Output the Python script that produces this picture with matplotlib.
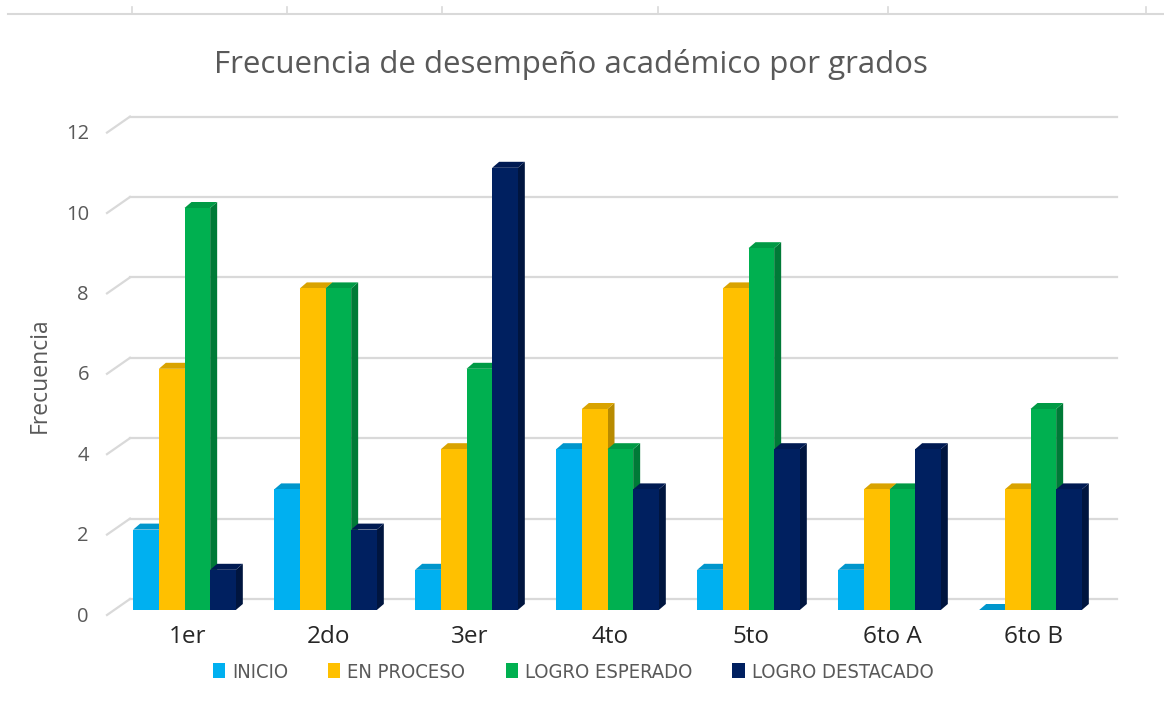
import matplotlib
matplotlib.use("Agg")
import matplotlib.pyplot as plt
from matplotlib.patches import Polygon, Patch
from matplotlib.lines import Line2D
from matplotlib.transforms import IdentityTransform, ScaledTranslation
import numpy as np

# ---------------- data ----------------
categories = ["1er", "2do", "3er", "4to", "5to", "6to A", "6to B"]
series_names = ["INICIO", "EN PROCESO", "LOGRO ESPERADO", "LOGRO DESTACADO"]
inicio = [2, 3, 1, 4, 1, 1, 0]
en_proceso = [6, 8, 4, 5, 8, 3, 3]
logro_esperado = [10, 8, 6, 4, 9, 3, 5]
logro_destacado = [1, 2, 11, 3, 4, 4, 3]
y_ticks = [0, 2, 4, 6, 8, 10, 12]

series = [inicio, en_proceso, logro_esperado, logro_destacado]
front_colors = ["#00B0F0", "#FFC000", "#00B050", "#002060"]
top_colors = ["#0096CC", "#D9A300", "#009A45", "#001A52"]
side_colors = ["#0082B0", "#B88B00", "#007A37", "#00153F"]

W, H = 1164, 702
fig = plt.figure(figsize=(W / 100, H / 100), dpi=100)
fig.patch.set_facecolor("white")

ax_left, ax_right, ax_bottom_px, ax_top_px = 114, 1101, 610, 127.6
ax = fig.add_axes([ax_left / W, (H - ax_bottom_px) / H,
                   (ax_right - ax_left) / W, (ax_bottom_px - ax_top_px) / H])
ax.set_xlim(-0.5, len(categories) - 0.5)
ax.set_ylim(0, 12)
for s in ax.spines.values():
    s.set_visible(False)
ax.patch.set_alpha(0)

fig.canvas.draw()
T = ax.transData
ident = IdentityTransform()

# depth offsets in pixels
bdx, bdy = 7, 6          # bar depth
gdx, gdy = 16, 11        # back wall offset for gridlines
fdx, fdy = -7, -5        # front of floor diagonals

grid_col = "#D9D9D9"
for v in y_ticks:
    x0, yv = T.transform((-0.5, v))
    x1, _ = T.transform((len(categories) - 0.5, v))
    ax.add_line(Line2D([x0 + gdx, x1 + gdx], [yv + gdy, yv + gdy], transform=ident,
                       color=grid_col, lw=1.6, zorder=1, clip_on=False))
    ax.add_line(Line2D([x0 + fdx, x0 + gdx], [yv + fdy, yv + gdy], transform=ident,
                       color=grid_col, lw=1.6, zorder=1, clip_on=False))

bar_w = 0.182
n = len(series)
x = np.arange(len(categories))
z = 2
for ci in range(len(categories)):
    for si in range(n):
        h = series[si][ci]
        xl = x[ci] + (si - n / 2) * bar_w
        xr = xl + bar_w
        (pxl, py0) = T.transform((xl, 0))
        (pxr, pyh) = T.transform((xr, h))
        side = [(pxr, py0), (pxr + bdx, py0 + bdy), (pxr + bdx, pyh + bdy), (pxr, pyh)]
        top = [(pxl, pyh), (pxr, pyh), (pxr + bdx, pyh + bdy), (pxl + bdx, pyh + bdy)]
        ax.add_patch(Polygon(side, closed=True, transform=ident, facecolor=side_colors[si],
                             edgecolor="none", zorder=z, clip_on=False))
        ax.add_patch(Polygon(top, closed=True, transform=ident, facecolor=top_colors[si],
                             edgecolor="none", zorder=z, clip_on=False))
        ax.bar(xl, h, width=bar_w, align="edge", color=front_colors[si],
               edgecolor="none", zorder=z + 0.5, clip_on=False)
        z += 1

# axes ticks
ax.set_xticks(x)
ax.set_xticklabels(categories, fontsize=17.5, color="#262626", family="Open Sans")
ax.set_yticks(y_ticks)
ax.set_yticklabels([str(v) for v in y_ticks], fontsize=14.5, color="#595959",
                   family="Open Sans")
ax.tick_params(axis="both", length=0)
ax.tick_params(axis="y", pad=18)
ax.tick_params(axis="x", pad=11)
for lab in ax.get_yticklabels():
    lab.set_transform(lab.get_transform() + ScaledTranslation(0, -0.04, fig.dpi_scale_trans))
for lab in ax.get_xticklabels():
    lab.set_transform(lab.get_transform() + ScaledTranslation(0.03, 0, fig.dpi_scale_trans))

fig.text(40 / W, 1 - 375 / H, "Frecuencia", rotation=90, ha="center", va="center",
         fontsize=16.5, color="#595959", family="Open Sans")

fig.text(571 / W, 1 - 64 / H, "Frecuencia de desempeño académico por grados",
         ha="center", va="center", fontsize=22.5, color="#595959", family="Open Sans")

handles = [Patch(facecolor=c, edgecolor="none") for c in front_colors]
leg = fig.legend(handles, series_names, loc="center", bbox_to_anchor=(573 / W, 1 - 672 / H),
                 ncol=4, frameon=False, handlelength=0.6, handleheight=0.75,
                 handletextpad=0.35, columnspacing=2.0,
                 prop={"family": "DejaVu Sans", "stretch": "condensed", "size": 14.5})
for t in leg.get_texts():
    t.set_color("#595959")

# top strip artifact
fig.add_artist(Line2D([8 / W, 1], [1 - 14 / H, 1 - 14 / H], transform=fig.transFigure,
                      color=grid_col, lw=1.5))
for tx in [132, 287, 442, 658, 888, 1146]:
    fig.add_artist(Line2D([tx / W, tx / W], [1 - 14 / H, 1 - 7 / H],
                          transform=fig.transFigure, color=grid_col, lw=1.2))

fig.savefig("out.png", dpi=100, facecolor="white")
